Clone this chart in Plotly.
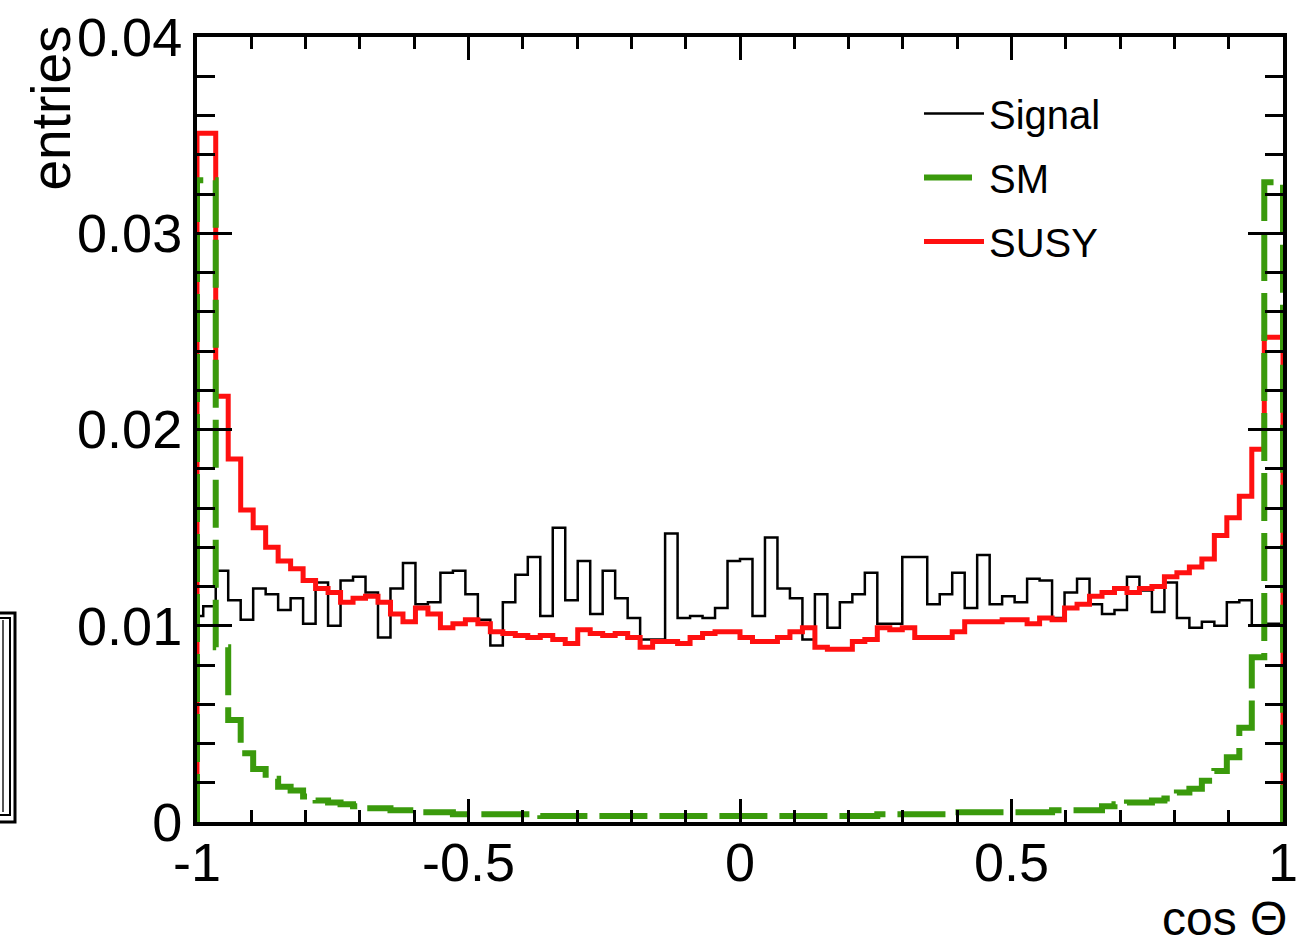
import numpy as np
import plotly.graph_objects as go

# ---------------- data ----------------
COS_MIN, COS_MAX = -1.0, 1.0

SIGNAL = [0.0105, 0.0110, 0.0128, 0.0113, 0.0103, 0.0119, 0.0116, 0.0108, 0.0114, 0.0101,
          0.0122, 0.0100, 0.0123, 0.0125, 0.0117, 0.0094, 0.0119, 0.0132, 0.0111, 0.0112,
          0.0127, 0.0128, 0.0116, 0.0103, 0.0090, 0.0112, 0.0126, 0.0135, 0.0105, 0.0150,
          0.0113, 0.0133, 0.0106, 0.0128, 0.0114, 0.0104, 0.0093, 0.0093, 0.0147, 0.0104,
          0.0105, 0.0104, 0.0109, 0.0133, 0.0134, 0.0105, 0.0145, 0.0119, 0.0114, 0.0093,
          0.0116, 0.0099, 0.0112, 0.0116, 0.0127, 0.0101, 0.0101, 0.0135, 0.0135, 0.0111,
          0.0116, 0.0127, 0.0109, 0.0136, 0.0111, 0.0115, 0.0112, 0.0124, 0.0123, 0.0104,
          0.0117, 0.0124, 0.0111, 0.0106, 0.0108, 0.0125, 0.0118, 0.0107, 0.0122, 0.0104,
          0.0099, 0.0102, 0.0100, 0.0112, 0.0113, 0.0100, 0.0101, 0.0101]

SUSY = [0.0351, 0.0351, 0.0217, 0.0185, 0.0159, 0.0150, 0.0140, 0.0133, 0.0129, 0.0123,
        0.0119, 0.0117, 0.0112, 0.0114, 0.0115, 0.0112, 0.0106, 0.0102, 0.0109, 0.0106,
        0.0099, 0.0101, 0.0103, 0.0101, 0.0097, 0.0096, 0.0095, 0.0094, 0.0095, 0.0093,
        0.0091, 0.0098, 0.0096, 0.0095, 0.0096, 0.0094, 0.0089, 0.0092, 0.0092, 0.0091,
        0.0094, 0.0096, 0.0097, 0.0097, 0.0094, 0.0092, 0.0092, 0.0094, 0.0097, 0.0099,
        0.0089, 0.0088, 0.0088, 0.0092, 0.0093, 0.0099, 0.0098, 0.0099, 0.0094, 0.0094,
        0.0094, 0.0097, 0.0102, 0.0102, 0.0102, 0.0103, 0.0103, 0.0101, 0.0104, 0.0103,
        0.0109, 0.0111, 0.0115, 0.0117, 0.0119, 0.0117, 0.0119, 0.0120, 0.0125, 0.0127,
        0.0130, 0.0134, 0.0146, 0.0155, 0.0166, 0.0190, 0.0247, 0.0247]

SM = [0.0327, 0.0327, 0.0089, 0.0052, 0.0035, 0.0027, 0.0022, 0.0018, 0.0016, 0.0013,
      0.0011, 0.0010, 0.0009, 0.0008, 0.0007, 0.0007, 0.0006, 0.0006, 0.0005, 0.0005,
      0.0005, 0.0004, 0.0004, 0.0004, 0.0004, 0.0004, 0.0004, 0.0004, 0.0003, 0.0003,
      0.0003, 0.0003, 0.0003, 0.0003, 0.0003, 0.0003, 0.0003, 0.0003, 0.0003, 0.0003,
      0.0003, 0.0003, 0.0003, 0.0003, 0.0003, 0.0003, 0.0003, 0.0003, 0.0003, 0.0003,
      0.0003, 0.0003, 0.0003, 0.0003, 0.0003, 0.0004, 0.0004, 0.0004, 0.0004, 0.0004,
      0.0004, 0.0005, 0.0005, 0.0005, 0.0005, 0.0005, 0.0005, 0.0005, 0.0005, 0.0006,
      0.0006, 0.0006, 0.0006, 0.0008, 0.0009, 0.0010, 0.0010, 0.0011, 0.0012, 0.0015,
      0.0017, 0.0021, 0.0026, 0.0033, 0.0048, 0.0084, 0.0326, 0.0326]

SERIES_NAMES = ["Signal", "SM", "SUSY"]

X_TICK_VALS = [-1, -0.5, 0, 0.5, 1]
X_TICK_TEXT = ["-1", "-0.5", "0", "0.5", "1"]
Y_TICK_VALS = [0, 0.01, 0.02, 0.03, 0.04]
Y_TICK_TEXT = ["0", "0.01", "0.02", "0.03", "0.04"]

X_TITLE = "cos \u0398"
Y_TITLE = "entries"

# ---------------- figure ----------------
centers = np.linspace(COS_MIN, COS_MAX, len(SIGNAL))


def step_xy(vals):
    x = np.concatenate([[centers[0]], centers, [centers[-1]]])
    y = np.concatenate([[0.0], np.asarray(vals, dtype=float), [0.0]])
    return x, y


FONT = "Liberation Sans, Arial, Helvetica, sans-serif"
GREEN = "#3a9a0c"
RED = "#ff1010"

fig = go.Figure()

xs, ys = step_xy(SIGNAL)
fig.add_trace(go.Scatter(x=xs, y=ys, mode="lines", name=SERIES_NAMES[0],
                         line=dict(color="black", width=2.5, shape="hvh"),
                         legendgroup="a", legendrank=1))
xs, ys = step_xy(SUSY)
fig.add_trace(go.Scatter(x=xs, y=ys, mode="lines", name=SERIES_NAMES[2],
                         line=dict(color=RED, width=5, shape="hvh"),
                         legendgroup="c", legendrank=3))
xs, ys = step_xy(SM)
fig.add_trace(go.Scatter(x=xs, y=ys, mode="lines", name=SERIES_NAMES[1],
                         line=dict(color=GREEN, width=6, shape="hvh", dash="48px,12px"),
                         legendgroup="b", legendrank=2))

W, H = 1299, 947
L, R, T, B = 197, 16, 37, 125
PW, PH = W - L - R, H - T - B


def px_x(p):
    return (p - L) / PW


def px_y(p):
    return (H - B - p) / PH


axis_common = dict(showline=True, linewidth=4, linecolor="black", mirror="ticks",
                   ticks="inside", tickwidth=3, tickcolor="black",
                   showgrid=False, zeroline=False, automargin=False,
                   ticklabeloverflow="allow",
                   tickfont=dict(family=FONT, size=54, color="black"))

fig.update_layout(
    width=W, height=H, autosize=False,
    margin=dict(l=L, r=R, t=T, b=B, pad=0, autoexpand=False),
    paper_bgcolor="white", plot_bgcolor="white",
    font=dict(family=FONT, color="black"),
    xaxis=dict(range=[COS_MIN, COS_MAX], tickmode="array", tickvals=X_TICK_VALS,
               ticktext=X_TICK_TEXT, ticklen=23, ticklabelstandoff=-10,
               minor=dict(ticks="inside", ticklen=12, tickwidth=3, tickcolor="black",
                          dtick=0.1, tick0=0, showgrid=False),
               **axis_common),
    yaxis=dict(range=[0, 0.04], tickmode="array", tickvals=Y_TICK_VALS,
               ticktext=Y_TICK_TEXT, ticklen=35,
               minor=dict(ticks="inside", ticklen=18, tickwidth=3, tickcolor="black",
                          dtick=0.002, tick0=0, showgrid=False),
               **axis_common),
    showlegend=True,
    legend=dict(x=px_x(919), y=px_y(81), xanchor="left", yanchor="top",
                bgcolor="rgba(0,0,0,0)", borderwidth=0, itemwidth=60,
                font=dict(family=FONT, size=40, color="black"),
                traceorder="grouped", tracegroupgap=9),
    annotations=[
        dict(text=Y_TITLE, textangle=-90, xref="paper", yref="paper",
             x=px_x(50), y=px_y(24), xanchor="center", yanchor="top",
             showarrow=False, font=dict(family=FONT, size=55, color="black")),
        dict(text=X_TITLE, xref="paper", yref="paper",
             x=px_x(1289), y=px_y(947), xanchor="right", yanchor="bottom",
             showarrow=False, font=dict(family=FONT, size=48, color="black")),
    ],
    shapes=[
        dict(type="rect", xref="paper", yref="paper", x0=px_x(-10), x1=px_x(15),
             y0=px_y(822), y1=px_y(613), line=dict(color="black", width=3)),
        dict(type="rect", xref="paper", yref="paper", x0=px_x(-10), x1=px_x(10),
             y0=px_y(815), y1=px_y(618), line=dict(color="black", width=2)),
        dict(type="line", xref="paper", yref="paper", x0=px_x(3), x1=px_x(3),
             y0=px_y(812), y1=px_y(620), line=dict(color="#555555", width=2)),
    ],
)

fig.write_html(
    "out.html",
    config={"responsive": False},
    post_script="document.documentElement.style.overflow='hidden';"
                "document.body.style.overflow='hidden';document.body.style.margin='0';",
)
